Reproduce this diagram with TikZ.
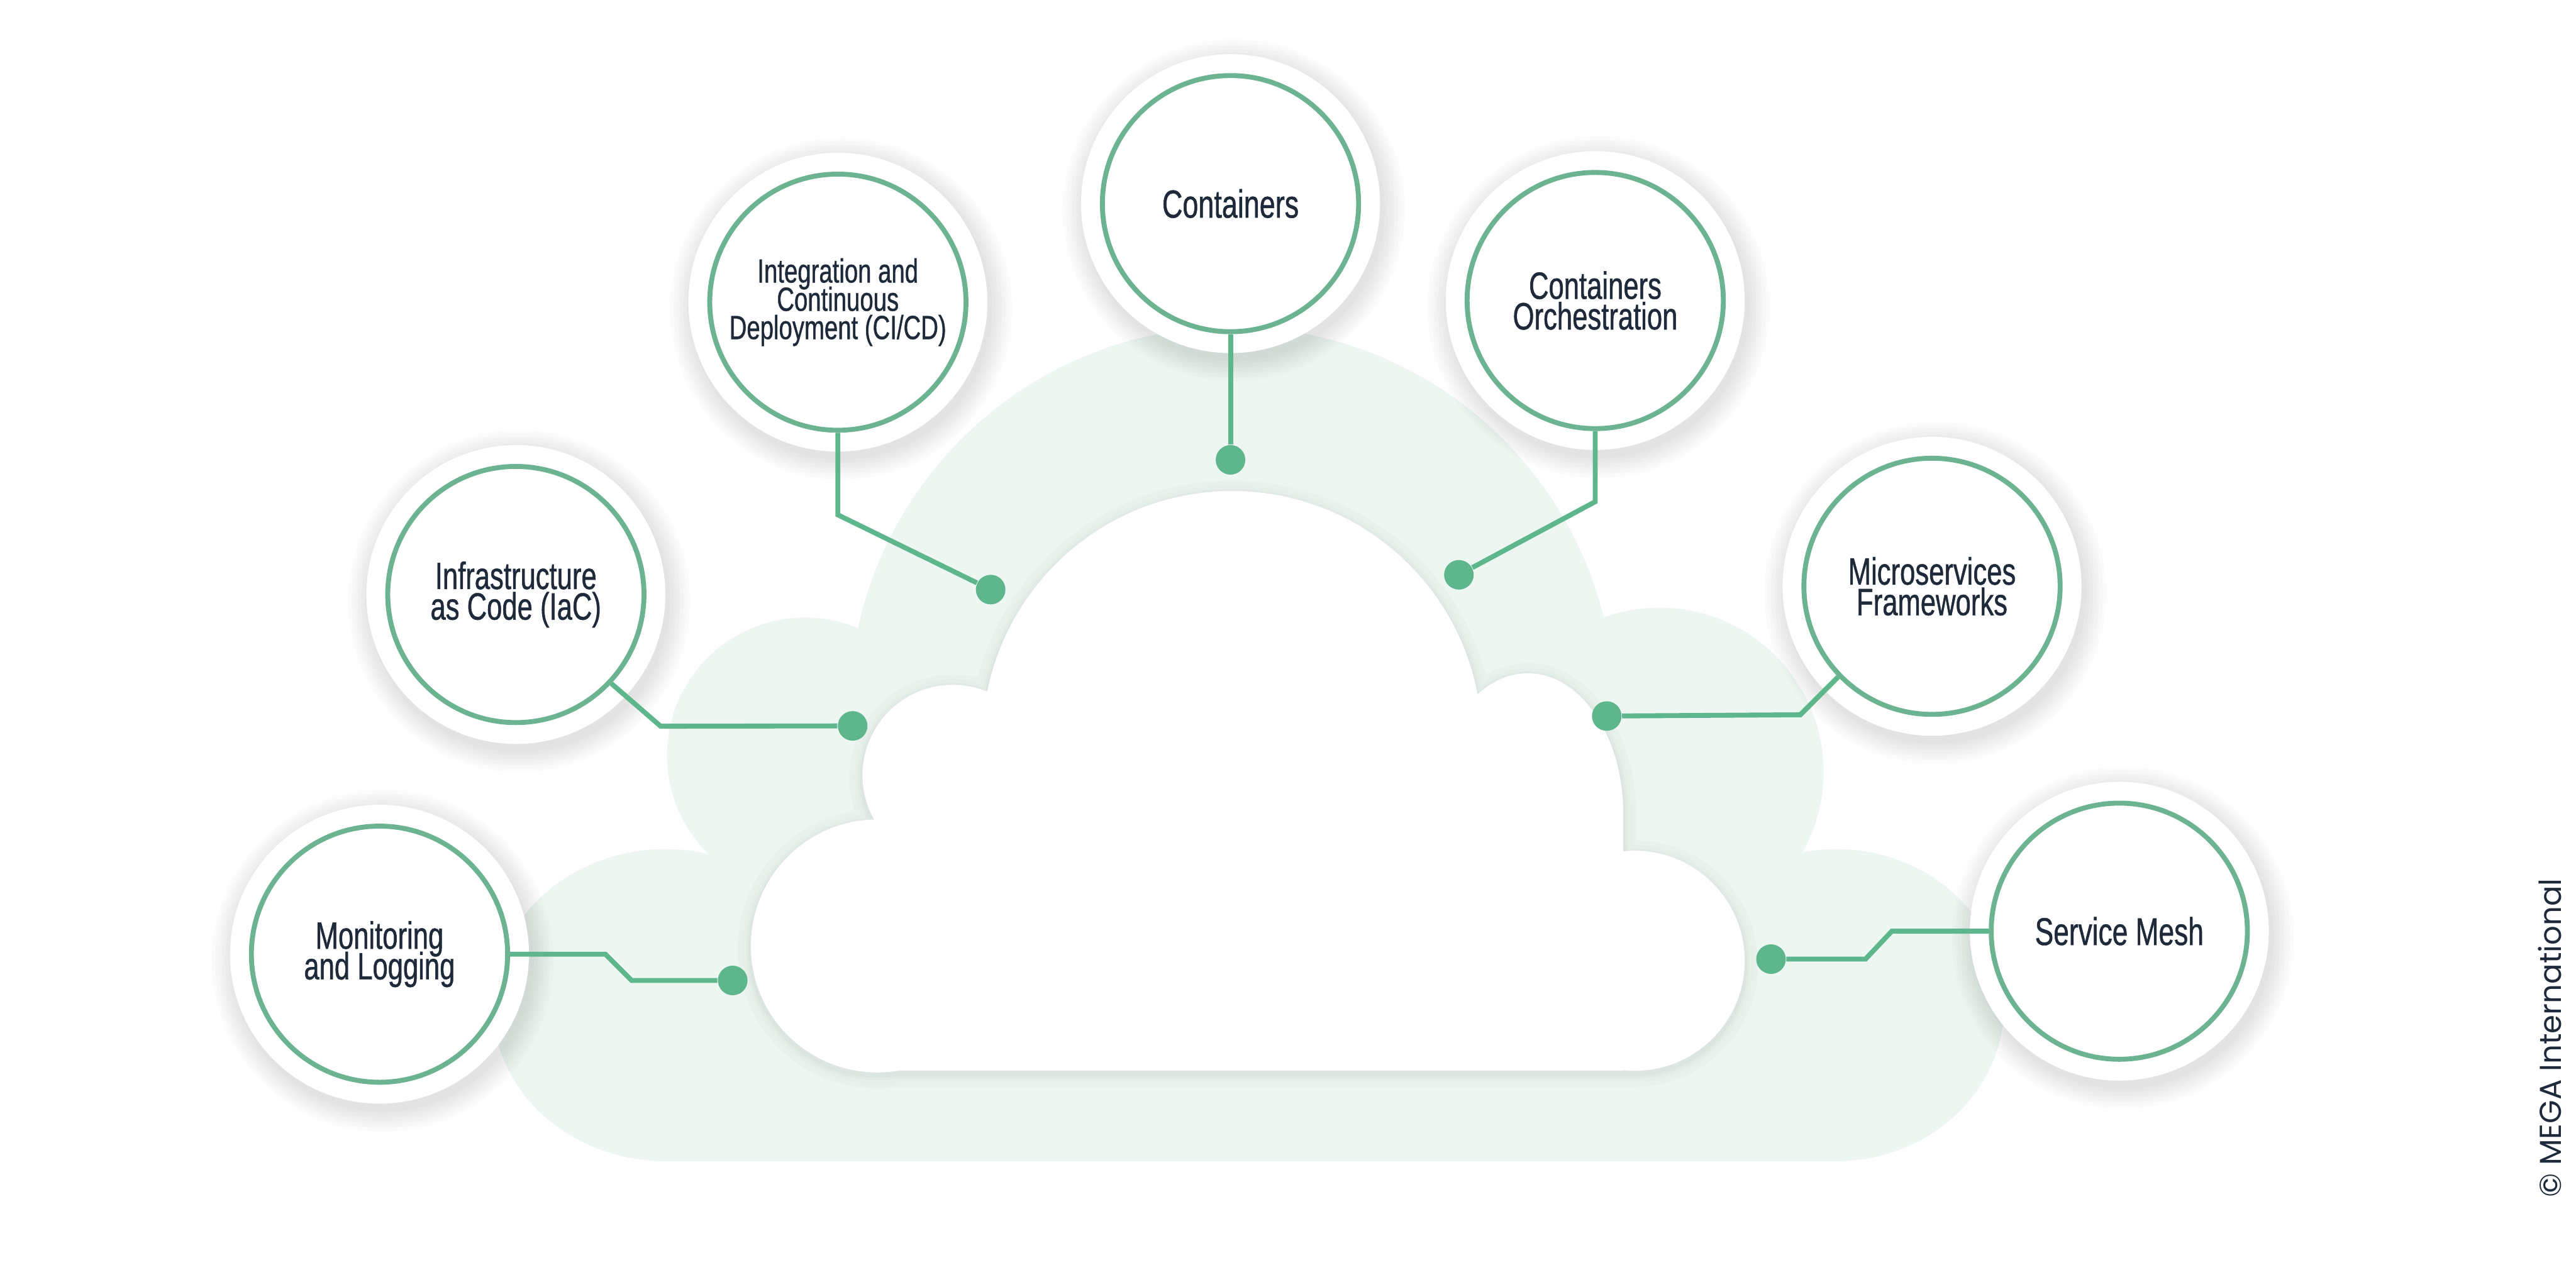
\documentclass[tikz,border=0pt]{standalone}
\usepackage{fontspec}
\usepackage{tikz}
\definecolor{ringgreen}{HTML}{6CB392}
\definecolor{dotgreen}{HTML}{5EB68D}
\definecolor{cloudmint}{HTML}{EEF6F2}
\definecolor{inkblue}{HTML}{1E2A3A}
\newfontfamily\tagfont[FakeStretch=0.72, FakeBold=0.8]{Liberation Sans}
\newfontfamily\markfont{Poppins}
\setlength{\lineskiplimit}{-20pt}
\tikzset{
  halo/.style={circle, fill=white, minimum size=3.64cm, inner sep=0pt},
  topic/.style={circle, draw=ringgreen, line width=0.06cm, fill=white,
    minimum size=3.12cm, inner sep=0pt, align=center, text=inkblue},
  tipdot/.style={circle, fill=dotgreen, minimum size=0.36cm, inner sep=0pt},
  link/.style={draw=dotgreen, line width=0.06cm},
}
% cloud outlines (picture units, y going down), one fill per lobe
\newcommand{\backcloud}[1]{
  \fill[#1] (405,612) ellipse [x radius=105, y radius=95];
  \fill[#1] (490,460) circle [radius=84];
  \fill[#1] (750,432) circle [radius=233];
  \fill[#1] (1010,470) circle [radius=100];
  \fill[#1] (1118,612) ellipse [x radius=102, y radius=95];
  \fill[#1] (405,520) rectangle (1118,707);}
\newcommand{\frontcloud}[1]{
  \fill[#1] (534,576) circle [radius=77];
  \fill[#1] (580,472) circle [radius=55];
  \fill[#1] (750,451) circle [radius=152];
  \fill[#1] (930,495) ellipse [x radius=58, y radius=85];
  \fill[#1] (995,585) circle [radius=67];
  \fill[#1] (534,500) rectangle (988,652);}

\begin{document}
\begin{tikzpicture}[x=0.02cm, y=-0.02cm]
    \useasboundingbox (0,0) rectangle (1568,776);

    % Clouds
    \backcloud{cloudmint}
    \foreach \w/\c in {16/2, 10/3, 6/5, 3/7}{
        \frontcloud{black!\c!cloudmint, draw=black!\c!cloudmint, line width=\w*0.02cm, yshift=-1pt}
    }
    \frontcloud{white}

    % Topic circles with their halos
    \foreach \nm/\px/\py/\fs/\ld/\txt in {
        mon/231/581/13.2/10.6/{Monitoring\\and Logging},
        iac/314/362/13.2/10.6/{Infrastructure\\as Code (IaC)},
        cicd/510/184/11.6/9.8/{Integration and\\Continuous\\Deployment (CI/CD)},
        cont/749/124/13.6/10/{Containers},
        orch/971/183/13.2/10.6/{Containers\\Orchestration},
        micro/1176/357/13.2/10.6/{Microservices\\Frameworks},
        mesh/1290/567/13.4/10/{Service Mesh}}{
        \foreach \k in {1,...,7}
            \fill[black, opacity=0.014] (\px+2,\py+4) circle [radius=90+\k*2];
        \node[halo] at (\px,\py) {};
        \node[topic, font={\tagfont\fontsize{\fs}{\ld}\selectfont}] (\nm) at (\px,\py) {\txt};
    }

    % End dots on the cloud
    \node[tipdot] (mondot) at (446,597) {};
    \node[tipdot] (iacdot) at (519,442) {};
    \node[tipdot] (cicddot) at (603,359) {};
    \node[tipdot] (contdot) at (749,280) {};
    \node[tipdot] (orchdot) at (888,350) {};
    \node[tipdot] (microdot) at (978,436) {};
    \node[tipdot] (meshdot) at (1078,584) {};

    % Connectors
    \draw[link] (mon.east) -- ++(58,0) -- ++(16,16) -- (mondot);
    \draw[link] (iac.-43) -- ++(30,26) -- (iacdot);
    \draw[link] (cicd.south) -- ++(0,50) -- (cicddot);
    \draw[link] (cont.south) -- (contdot);
    \draw[link] (orch.south) -- ++(0,43) -- (orchdot);
    \draw[link] (micro.-136) -- ++(-23,23) -- (microdot);
    \draw[link] (mesh.west) -- ++(-59,0) -- ++(-16,17) -- (meshdot);

    % Credit
    \node[rotate=90, text=inkblue, font=\markfont\fontsize{10.5}{12}\selectfont] (credit) at (1552,632) {© MEGA International};
\end{tikzpicture}
\end{document}
